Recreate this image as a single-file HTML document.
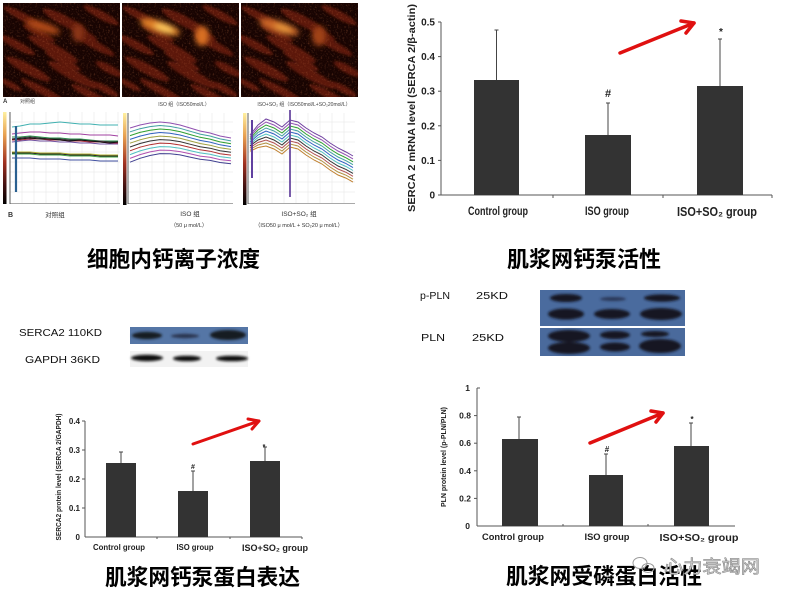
<!DOCTYPE html>
<html><head><meta charset="utf-8">
<style>
html,body{margin:0;padding:0;background:#fff;}
svg{display:block;}
text{font-family:"Liberation Sans","Noto Sans CJK SC",sans-serif;}
.cjk{font-family:"Liberation Sans","Noto Sans CJK SC",sans-serif;font-weight:bold;}
</style></head>
<body>
<svg width="786" height="599" viewBox="0 0 786 599" xmlns="http://www.w3.org/2000/svg">
<defs>
  <clipPath id="clipCell"><rect x="0" y="0" width="117" height="94"/></clipPath>
  <filter id="blur2" x="-20%" y="-20%" width="140%" height="140%"><feGaussianBlur stdDeviation="1.4"/></filter>
  <filter id="blur3" x="-30%" y="-30%" width="160%" height="160%"><feGaussianBlur stdDeviation="3"/></filter>
  <filter id="bblur" x="-20%" y="-50%" width="140%" height="200%"><feGaussianBlur stdDeviation="1.2"/></filter>
  <filter id="noise" x="0" y="0" width="100%" height="100%">
    <feTurbulence type="fractalNoise" baseFrequency="0.55" numOctaves="2" seed="4"/>
    <feColorMatrix values="0 0 0 0 0.7  0 0 0 0 0.22  0 0 0 0 0.08  2.6 0 0 0 -1.35"/>
  </filter>
  <linearGradient id="cbar" x1="0" y1="0" x2="0" y2="1">
    <stop offset="0" stop-color="#fff0a0"/>
    <stop offset="0.25" stop-color="#e8a050"/>
    <stop offset="0.55" stop-color="#a03020"/>
    <stop offset="0.8" stop-color="#401010"/>
    <stop offset="1" stop-color="#000"/>
  </linearGradient>
  <g id="cells">
    <rect x="0" y="0" width="117" height="94" fill="#180402"/>
    <g filter="url(#blur2)" fill="#6e1e08" opacity="0.8">
      <ellipse cx="20" cy="14" rx="22" ry="4" transform="rotate(28 20 14)"/>
      <ellipse cx="62" cy="18" rx="25" ry="5" transform="rotate(28 62 18)"/>
      <ellipse cx="98" cy="12" rx="20" ry="4" transform="rotate(28 98 12)"/>
      <ellipse cx="14" cy="42" rx="20" ry="4" transform="rotate(28 14 42)"/>
      <ellipse cx="50" cy="46" rx="28" ry="5" transform="rotate(28 50 46)"/>
      <ellipse cx="92" cy="42" rx="22" ry="4" transform="rotate(28 92 42)"/>
      <ellipse cx="25" cy="66" rx="25" ry="5" transform="rotate(28 25 66)"/>
      <ellipse cx="70" cy="72" rx="28" ry="5" transform="rotate(28 70 72)"/>
      <ellipse cx="106" cy="66" rx="15" ry="4" transform="rotate(28 106 66)"/>
      <ellipse cx="40" cy="88" rx="25" ry="4" transform="rotate(28 40 88)"/>
      <ellipse cx="88" cy="92" rx="22" ry="4" transform="rotate(28 88 92)"/>
      <ellipse cx="8" cy="82" rx="12" ry="3" transform="rotate(28 8 82)"/>
      <ellipse cx="60" cy="58" rx="20" ry="3.5" transform="rotate(28 60 58)"/>
      <ellipse cx="102" cy="86" rx="15" ry="3.5" transform="rotate(28 102 86)"/>
      <ellipse cx="36" cy="30" rx="18" ry="3.5" transform="rotate(28 36 30)"/>
      <ellipse cx="80" cy="30" rx="16" ry="3.5" transform="rotate(28 80 30)"/>
    </g>
    <rect x="0" y="0" width="117" height="94" filter="url(#noise)" opacity="0.3"/>
  </g>
</defs>

<!-- ===== Micrographs ===== -->
<g transform="translate(3,3)" clip-path="url(#clipCell)">
  <use href="#cells"/>
  <g filter="url(#blur3)">
    <ellipse cx="40" cy="24" rx="18" ry="5" fill="#b04a18" transform="rotate(18 40 24)"/>
    <ellipse cx="75" cy="30" rx="6" ry="9" fill="#8a3414"/>
  </g>
</g>
<g transform="translate(122,3)" clip-path="url(#clipCell)">
  <use href="#cells"/>
  <g filter="url(#blur3)">
    <ellipse cx="38" cy="24" rx="21" ry="6" fill="#e08028" transform="rotate(18 38 24)"/>
    <ellipse cx="42" cy="25" rx="10" ry="3" fill="#ffd060" transform="rotate(18 42 25)"/>
    <ellipse cx="80" cy="33" rx="7" ry="10" fill="#d87024"/>
  </g>
</g>
<g transform="translate(241,3)" clip-path="url(#clipCell)">
  <use href="#cells"/>
  <g filter="url(#blur3)">
    <ellipse cx="38" cy="24" rx="21" ry="6" fill="#cc6626" transform="rotate(18 38 24)"/>
    <ellipse cx="42" cy="25" rx="9" ry="3" fill="#e89a3c" transform="rotate(18 42 25)"/>
    <ellipse cx="78" cy="33" rx="7" ry="10" fill="#a04216"/>
  </g>
</g>
<text x="3" y="103" font-size="6" font-weight="bold" fill="#333">A</text>
<text x="20" y="103" font-size="5" fill="#444">对照组</text>
<text x="184" y="106" font-size="5" fill="#444" text-anchor="middle">ISO 组（ISO50mol/L）</text>
<text x="304" y="106" font-size="5" fill="#444" text-anchor="middle">ISO+SO₂ 组（ISO50mol/L+SO₂20mol/L）</text>

<!-- ===== Trace panels ===== -->
<!-- panel 1 -->
<g>
  <rect x="3" y="112" width="3.5" height="92" fill="url(#cbar)"/>
  <g stroke="#e6e6e6" stroke-width="0.6">
    <line x1="10" y1="122" x2="120" y2="122"/><line x1="10" y1="132" x2="120" y2="132"/><line x1="10" y1="142" x2="120" y2="142"/><line x1="10" y1="152" x2="120" y2="152"/><line x1="10" y1="162" x2="120" y2="162"/><line x1="10" y1="172" x2="120" y2="172"/><line x1="10" y1="182" x2="120" y2="182"/><line x1="10" y1="192" x2="120" y2="192"/>
    <line x1="22" y1="112" x2="22" y2="203"/><line x1="34" y1="112" x2="34" y2="203"/><line x1="46" y1="112" x2="46" y2="203"/><line x1="58" y1="112" x2="58" y2="203"/><line x1="70" y1="112" x2="70" y2="203"/><line x1="82" y1="112" x2="82" y2="203"/><line x1="94" y1="112" x2="94" y2="203"/><line x1="106" y1="112" x2="106" y2="203"/><line x1="118" y1="112" x2="118" y2="203"/>
  </g>
  <line x1="10" y1="112" x2="10" y2="204" stroke="#333" stroke-width="0.8"/>
  <line x1="10" y1="203.5" x2="120" y2="203.5" stroke="#555" stroke-width="0.6"/>
  <g fill="none" stroke-width="1">
    <polyline stroke="#40b0b0" points="12,127 20,126 30,124 40,124 50,123 60,122 70,123 80,124 90,124 100,125 110,125 118,125"/>
    <polyline stroke="#a040a0" points="12,134 20,133 30,132 40,132 50,133 60,133 70,134 80,134 90,135 100,135 110,135 118,136"/>
    <polyline stroke="#2a8a4a" points="12,137 20,137 30,136 40,137 50,138 60,138 70,139 80,139 90,140 100,141 110,141 118,141"/>
    <polyline stroke="#333" points="12,139 20,138 30,137 40,138 50,139 60,139 70,140 80,140 90,141 100,141 110,142 118,142"/>
    <polyline stroke="#b03040" points="12,140 20,140 30,139 40,139 50,140 60,140 70,141 80,141 90,142 100,142 110,143 118,143"/>
    <polyline stroke="#7050a0" points="12,142 20,141 30,140 40,141 50,141 60,142 70,142 80,143 90,143 100,144 110,144 118,144"/>
    <polyline stroke="#111" points="12,139 20,139 30,138 40,139 50,139 60,140 70,141 80,140 90,141 100,142 110,143 118,142"/>
    <polyline stroke="#b0b030" points="12,152 20,152 30,152 40,153 50,153 60,153 70,154 80,154 90,154 100,155 110,155 118,155"/>
    <polyline stroke="#222" points="12,153 20,153 30,153 40,154 50,154 60,154 70,155 80,155 90,155 100,156 110,156 118,156"/>
    <polyline stroke="#40a040" points="12,154 20,154 30,154 40,155 50,155 60,155 70,156 80,156 90,156 100,157 110,157 118,157"/>
    <polyline stroke="#4050a0" points="12,158 20,158 30,158 40,159 50,159 60,159 70,160 80,160 90,160 100,161 110,161 118,161"/>
  </g>
  <line x1="16" y1="126" x2="16" y2="192" stroke="#2a6090" stroke-width="2.2"/>
</g>
<!-- panel 2 -->
<g>
  <rect x="123" y="113" width="3.5" height="92" fill="url(#cbar)"/>
  <g stroke="#e6e6e6" stroke-width="0.6">
    <line x1="128" y1="122" x2="233" y2="122"/><line x1="128" y1="132" x2="233" y2="132"/><line x1="128" y1="142" x2="233" y2="142"/><line x1="128" y1="152" x2="233" y2="152"/><line x1="128" y1="162" x2="233" y2="162"/><line x1="128" y1="172" x2="233" y2="172"/><line x1="128" y1="182" x2="233" y2="182"/><line x1="128" y1="192" x2="233" y2="192"/>
    <line x1="140" y1="113" x2="140" y2="203"/><line x1="152" y1="113" x2="152" y2="203"/><line x1="164" y1="113" x2="164" y2="203"/><line x1="176" y1="113" x2="176" y2="203"/><line x1="188" y1="113" x2="188" y2="203"/><line x1="200" y1="113" x2="200" y2="203"/><line x1="212" y1="113" x2="212" y2="203"/><line x1="224" y1="113" x2="224" y2="203"/>
  </g>
  <line x1="128" y1="113" x2="128" y2="204" stroke="#333" stroke-width="0.8"/>
  <line x1="128" y1="203.5" x2="233" y2="203.5" stroke="#555" stroke-width="0.6"/>
  <g fill="none" stroke-width="1">
    <polyline stroke="#9050b0" points="130,128 140,125 150,123 160,122 170,123 180,125 190,128 200,131 210,133 220,136 231,138"/>
    <polyline stroke="#40a0a0" points="130,131.8 140,128.7 150,126.6 160,125.5 170,126.4 180,128.3 190,131.2 200,134.1 210,136 220,138.9 231,140.9"/>
    <polyline stroke="#30a030" points="130,135.6 140,132.4 150,130.2 160,129 170,129.8 180,131.6 190,134.5 200,137.3 210,139.1 220,141.9 231,143.7"/>
    <polyline stroke="#3060c0" points="130,139.4 140,136.1 150,133.8 160,132.5 170,133.3 180,135 190,137.7 200,140.4 210,142.1 220,144.8 231,146.6"/>
    <polyline stroke="#a0a040" points="130,143.2 140,139.8 150,137.4 160,136.1 170,136.7 180,138.3 190,140.9 200,143.5 210,145.2 220,147.8 231,149.4"/>
    <polyline stroke="#333" points="130,147 140,143.5 150,141 160,139.6 170,140.1 180,141.6 190,144.2 200,146.7 210,148.2 220,150.7 231,152.3"/>
    <polyline stroke="#b03030" points="130,150.8 140,147.2 150,144.7 160,143.1 170,143.5 180,145 190,147.4 200,149.8 210,151.2 220,153.7 231,155.1"/>
    <polyline stroke="#50c0c0" points="130,154.6 140,150.9 150,148.3 160,146.6 170,146.9 180,148.3 190,150.6 200,152.9 210,154.3 220,156.6 231,158"/>
    <polyline stroke="#b050b0" points="130,158.4 140,154.6 150,151.9 160,150.1 170,150.4 180,151.6 190,153.8 200,156.1 210,157.3 220,159.6 231,160.8"/>
    <polyline stroke="#404090" points="130,162.2 140,158.3 150,155.5 160,153.6 170,153.8 180,154.9 190,157.1 200,159.2 210,160.4 220,162.5 231,163.7"/>
  </g>
</g>
<!-- panel 3 -->
<g>
  <rect x="243" y="113" width="3.5" height="92" fill="url(#cbar)"/>
  <g stroke="#e6e6e6" stroke-width="0.6">
    <line x1="248" y1="122" x2="355" y2="122"/><line x1="248" y1="132" x2="355" y2="132"/><line x1="248" y1="142" x2="355" y2="142"/><line x1="248" y1="152" x2="355" y2="152"/><line x1="248" y1="162" x2="355" y2="162"/><line x1="248" y1="172" x2="355" y2="172"/><line x1="248" y1="182" x2="355" y2="182"/><line x1="248" y1="192" x2="355" y2="192"/>
    <line x1="260" y1="113" x2="260" y2="203"/><line x1="272" y1="113" x2="272" y2="203"/><line x1="284" y1="113" x2="284" y2="203"/><line x1="296" y1="113" x2="296" y2="203"/><line x1="308" y1="113" x2="308" y2="203"/><line x1="320" y1="113" x2="320" y2="203"/><line x1="332" y1="113" x2="332" y2="203"/><line x1="344" y1="113" x2="344" y2="203"/>
  </g>
  <line x1="248" y1="113" x2="248" y2="204" stroke="#333" stroke-width="0.8"/>
  <line x1="248" y1="203.5" x2="355" y2="203.5" stroke="#555" stroke-width="0.6"/>
  <g fill="none" stroke-width="1">
    <polyline stroke="#7040a0" points="250,135 258,125 266,119 274,122 282,127 290,120 298,122 306,128 314,133 322,137 330,143 338,148 346,152 353,156"/>
    <polyline stroke="#9050b0" points="250,136.8 258,127.5 266,122 274,125 282,130 290,123 298,125 306,131 314,136 322,140 330,146 338,151 346,154.9 353,158.9"/>
    <polyline stroke="#30a030" points="250,138.6 258,130 266,125 274,128 282,133 290,126 298,128 306,134 314,139 322,143 330,149 338,154 346,157.8 353,161.8"/>
    <polyline stroke="#40a0a0" points="250,140.4 258,132.5 266,128 274,131 282,136 290,129 298,131 306,137 314,142 322,146 330,152 338,157 346,160.7 353,164.7"/>
    <polyline stroke="#3060c0" points="250,142.2 258,135 266,131 274,134 282,139 290,132 298,134 306,140 314,145 322,149 330,155 338,160 346,163.6 353,167.6"/>
    <polyline stroke="#50c0c0" points="250,144 258,137.5 266,134 274,137 282,142 290,135 298,137 306,143 314,148 322,152 330,158 338,163 346,166.5 353,170.5"/>
    <polyline stroke="#333" points="250,145.8 258,140 266,137 274,140 282,145 290,138 298,140 306,146 314,151 322,155 330,161 338,166 346,169.4 353,173.4"/>
    <polyline stroke="#b05050" points="250,147.6 258,142.5 266,140 274,143 282,148 290,141 298,143 306,149 314,154 322,158 330,164 338,169 346,172.3 353,176.3"/>
    <polyline stroke="#b09040" points="250,149.4 258,145 266,143 274,146 282,151 290,144 298,146 306,152 314,157 322,161 330,167 338,172 346,175.2 353,179.2"/>
    <polyline stroke="#c08030" points="250,151.2 258,147.5 266,146 274,149 282,154 290,147 298,149 306,155 314,160 322,164 330,170 338,175 346,178.1 353,182.1"/>
  </g>
  <line x1="252" y1="120" x2="252" y2="178" stroke="#6040a0" stroke-width="2"/>
  <line x1="290" y1="110" x2="290" y2="197" stroke="#6a4aa0" stroke-width="1.8"/>
</g>
<text x="8" y="217" font-size="7" font-weight="bold" fill="#333">B</text>
<text x="55" y="217" font-size="6.5" fill="#333" text-anchor="middle">对照组</text>
<text x="190" y="216" font-size="6.5" fill="#333" text-anchor="middle">ISO 组</text>
<text x="189" y="227" font-size="5.5" fill="#333" text-anchor="middle">（50 μ mol/L）</text>
<text x="299" y="216" font-size="6.5" fill="#333" text-anchor="middle">ISO+SO₂ 组</text>
<text x="299" y="227" font-size="5.5" fill="#333" text-anchor="middle">（ISO50 μ mol/L + SO₂20 μ mol/L）</text>

<!-- captions top -->
<text class="cjk" x="87" y="267" font-size="22" textLength="173" lengthAdjust="spacingAndGlyphs" fill="#000">细胞内钙离子浓度</text>
<text class="cjk" x="507" y="267" font-size="22" textLength="154" lengthAdjust="spacingAndGlyphs" fill="#000">肌浆网钙泵活性</text>

<!-- ===== Chart A (top right) ===== -->
<g>
  <line x1="441" y1="22" x2="441" y2="195" stroke="#555" stroke-width="1"/>
  <line x1="441" y1="195" x2="772" y2="195" stroke="#555" stroke-width="1"/>
  <g stroke="#555" stroke-width="1">
    <line x1="438" y1="22" x2="441" y2="22"/><line x1="438" y1="56.6" x2="441" y2="56.6"/><line x1="438" y1="91.2" x2="441" y2="91.2"/><line x1="438" y1="125.8" x2="441" y2="125.8"/><line x1="438" y1="160.4" x2="441" y2="160.4"/><line x1="438" y1="195" x2="441" y2="195"/>
    <line x1="553" y1="195" x2="553" y2="198"/><line x1="663" y1="195" x2="663" y2="198"/><line x1="772" y1="195" x2="772" y2="198"/>
  </g>
  <g font-size="10" font-weight="bold" fill="#222" text-anchor="end">
    <text x="435" y="25.5">0.5</text><text x="435" y="60">0.4</text><text x="435" y="94.7">0.3</text><text x="435" y="129.3">0.2</text><text x="435" y="164">0.1</text><text x="435" y="198.5">0</text>
  </g>
  <text transform="translate(415,108) rotate(-90)" text-anchor="middle" font-size="10" font-weight="bold" fill="#222" textLength="208" lengthAdjust="spacingAndGlyphs">SERCA 2 mRNA level (SERCA 2/β-actin)</text>
  <g fill="#333">
    <rect x="474" y="80" width="45" height="115"/>
    <rect x="585" y="135" width="46" height="60"/>
    <rect x="697" y="86" width="46" height="109"/>
  </g>
  <g stroke="#444" stroke-width="1">
    <line x1="496.5" y1="80" x2="496.5" y2="30"/><line x1="494.5" y1="30" x2="498.5" y2="30"/>
    <line x1="608" y1="135" x2="608" y2="103"/><line x1="606" y1="103" x2="610" y2="103"/>
    <line x1="720" y1="86" x2="720" y2="39"/><line x1="718" y1="39" x2="722" y2="39"/>
  </g>
  <text x="608" y="97" font-size="11" font-weight="bold" fill="#222" text-anchor="middle">#</text>
  <text x="721" y="35" font-size="10" font-weight="bold" fill="#222" text-anchor="middle">*</text>
  <g font-weight="bold" fill="#222" text-anchor="middle">
    <text x="498" y="215" font-size="11.5" textLength="60" lengthAdjust="spacingAndGlyphs">Control group</text>
    <text x="607" y="215" font-size="11.5" textLength="44" lengthAdjust="spacingAndGlyphs">ISO group</text>
    <text x="717" y="216" font-size="12.5" textLength="80" lengthAdjust="spacingAndGlyphs">ISO+SO₂ group</text>
  </g>
  <g stroke="#e01010" stroke-width="3.5" fill="none" stroke-linecap="round" stroke-linejoin="round">
    <line x1="620" y1="53" x2="694" y2="23"/>
    <polyline points="681,21 694,23 686,33"/>
  </g>
</g>

<!-- ===== Blots left ===== -->
<text x="19" y="336" font-size="10" fill="#111" textLength="83" lengthAdjust="spacingAndGlyphs">SERCA2  110KD</text>
<text x="25" y="363" font-size="10" fill="#111" textLength="75" lengthAdjust="spacingAndGlyphs">GAPDH  36KD</text>
<rect x="130" y="327" width="118" height="17" fill="#5576a6"/>
<g filter="url(#bblur)" fill="#151a24">
  <ellipse cx="147" cy="335.5" rx="15" ry="3.6"/>
  <ellipse cx="185" cy="336" rx="14" ry="2.2" fill="#2a3550"/>
  <ellipse cx="228" cy="335" rx="18" ry="5"/>
</g>
<rect x="130" y="351" width="118" height="16" fill="#f2f2f2"/>
<g filter="url(#bblur)" fill="#111">
  <ellipse cx="147" cy="358" rx="16" ry="3.2"/>
  <ellipse cx="187" cy="358.5" rx="14" ry="2.8"/>
  <ellipse cx="232" cy="358.5" rx="16" ry="2.8"/>
</g>

<!-- ===== Chart C (bottom left) ===== -->
<g>
  <line x1="85" y1="421" x2="85" y2="537" stroke="#555" stroke-width="1"/>
  <line x1="85" y1="537" x2="302" y2="537" stroke="#555" stroke-width="1"/>
  <g stroke="#555" stroke-width="1">
    <line x1="82" y1="421" x2="85" y2="421"/><line x1="82" y1="450" x2="85" y2="450"/><line x1="82" y1="479" x2="85" y2="479"/><line x1="82" y1="508" x2="85" y2="508"/>
    <line x1="157" y1="537" x2="157" y2="539"/><line x1="230" y1="537" x2="230" y2="539"/><line x1="302" y1="537" x2="302" y2="539"/>
  </g>
  <g font-size="8" font-weight="bold" fill="#222" text-anchor="end">
    <text x="80" y="424">0.4</text><text x="80" y="453">0.3</text><text x="80" y="482">0.2</text><text x="80" y="511">0.1</text><text x="80" y="540">0</text>
  </g>
  <text transform="translate(61,477) rotate(-90)" text-anchor="middle" font-size="7" font-weight="bold" fill="#222" textLength="127" lengthAdjust="spacingAndGlyphs">SERCA2 protein level (SERCA 2/GAPDH)</text>
  <g fill="#333">
    <rect x="106" y="463" width="30" height="74"/>
    <rect x="178" y="491" width="30" height="46"/>
    <rect x="250" y="461" width="30" height="76"/>
  </g>
  <g stroke="#444" stroke-width="1">
    <line x1="121" y1="463" x2="121" y2="452"/><line x1="119" y1="452" x2="123" y2="452"/>
    <line x1="193" y1="491" x2="193" y2="471"/><line x1="191" y1="471" x2="195" y2="471"/>
    <line x1="265" y1="461" x2="265" y2="447"/><line x1="263" y1="447" x2="267" y2="447"/>
  </g>
  <text x="193" y="469" font-size="7" font-weight="bold" fill="#222" text-anchor="middle">#</text>
  <text x="264" y="449" font-size="7" font-weight="bold" fill="#222" text-anchor="middle">*</text>
  <g font-weight="bold" fill="#222" text-anchor="middle">
    <text x="119" y="550" font-size="8.5" textLength="52" lengthAdjust="spacingAndGlyphs">Control group</text>
    <text x="195" y="550" font-size="8.5" textLength="37" lengthAdjust="spacingAndGlyphs">ISO group</text>
    <text x="275" y="551" font-size="9.5" textLength="66" lengthAdjust="spacingAndGlyphs">ISO+SO₂ group</text>
  </g>
  <g stroke="#e01010" stroke-width="3" fill="none" stroke-linecap="round" stroke-linejoin="round">
    <line x1="193" y1="444" x2="259" y2="421"/>
    <polyline points="248,419 259,421 252,429"/>
  </g>
</g>
<text class="cjk" x="105" y="585" font-size="22" textLength="195" lengthAdjust="spacingAndGlyphs" fill="#000">肌浆网钙泵蛋白表达</text>

<!-- ===== Blots right ===== -->
<text x="420" y="299" font-size="10" fill="#111" textLength="30" lengthAdjust="spacingAndGlyphs">p-PLN</text>
<text x="476" y="299" font-size="10" fill="#111" textLength="32" lengthAdjust="spacingAndGlyphs">25KD</text>
<text x="421" y="341" font-size="10" fill="#111" textLength="24" lengthAdjust="spacingAndGlyphs">PLN</text>
<text x="472" y="341" font-size="10" fill="#111" textLength="32" lengthAdjust="spacingAndGlyphs">25KD</text>
<rect x="540" y="290" width="145" height="36" fill="#4a6b9e"/>
<rect x="540" y="328" width="145" height="28" fill="#4a6a9c"/>
<g filter="url(#bblur)" fill="#121622">
  <ellipse cx="566" cy="298" rx="16" ry="4"/>
  <ellipse cx="613" cy="299" rx="13" ry="2" fill="#2c3858"/>
  <ellipse cx="662" cy="298" rx="18" ry="3.6"/>
  <ellipse cx="566" cy="314" rx="18" ry="5.5"/>
  <ellipse cx="612" cy="314" rx="18" ry="5"/>
  <ellipse cx="661" cy="314" rx="21" ry="6"/>
  <ellipse cx="569" cy="336" rx="21" ry="6"/>
  <ellipse cx="569" cy="348" rx="21" ry="6"/>
  <ellipse cx="615" cy="335" rx="15" ry="4"/>
  <ellipse cx="615" cy="347" rx="15" ry="4.5"/>
  <ellipse cx="655" cy="334" rx="14" ry="3"/>
  <ellipse cx="660" cy="346" rx="21" ry="7"/>
</g>

<!-- ===== Chart D (bottom right) ===== -->
<g>
  <line x1="477" y1="388" x2="477" y2="526" stroke="#555" stroke-width="1"/>
  <line x1="477" y1="526" x2="735" y2="526" stroke="#555" stroke-width="1"/>
  <g stroke="#555" stroke-width="1">
    <line x1="477" y1="388" x2="480" y2="388"/><line x1="474" y1="415.6" x2="477" y2="415.6"/><line x1="474" y1="443.2" x2="477" y2="443.2"/><line x1="474" y1="470.8" x2="477" y2="470.8"/><line x1="474" y1="498.4" x2="477" y2="498.4"/>
    <line x1="563" y1="524" x2="563" y2="526"/><line x1="648" y1="524" x2="648" y2="526"/>
  </g>
  <g font-size="8.5" font-weight="bold" fill="#222" text-anchor="end">
    <text x="470" y="391">1</text><text x="471" y="418.6">0.8</text><text x="471" y="446.2">0.6</text><text x="471" y="473.8">0.4</text><text x="471" y="501.4">0.2</text><text x="470" y="529">0</text>
  </g>
  <text transform="translate(446,457) rotate(-90)" text-anchor="middle" font-size="7.5" font-weight="bold" fill="#222" textLength="100" lengthAdjust="spacingAndGlyphs">PLN protein level (p-PLN/PLN)</text>
  <g fill="#333">
    <rect x="502" y="439" width="36" height="87"/>
    <rect x="589" y="475" width="34" height="51"/>
    <rect x="674" y="446" width="35" height="80"/>
  </g>
  <g stroke="#444" stroke-width="1">
    <line x1="519" y1="439" x2="519" y2="417"/><line x1="517" y1="417" x2="521" y2="417"/>
    <line x1="606" y1="475" x2="606" y2="454"/><line x1="604" y1="454" x2="608" y2="454"/>
    <line x1="691" y1="446" x2="691" y2="423"/><line x1="689" y1="423" x2="693" y2="423"/>
  </g>
  <text x="607" y="452" font-size="8" font-weight="bold" fill="#222" text-anchor="middle">#</text>
  <text x="692" y="422" font-size="8" font-weight="bold" fill="#222" text-anchor="middle">*</text>
  <g font-weight="bold" fill="#222" text-anchor="middle">
    <text x="513" y="540" font-size="9" textLength="62" lengthAdjust="spacingAndGlyphs">Control group</text>
    <text x="607" y="540" font-size="9" textLength="45" lengthAdjust="spacingAndGlyphs">ISO group</text>
    <text x="699" y="541" font-size="10" textLength="79" lengthAdjust="spacingAndGlyphs">ISO+SO₂ group</text>
  </g>
  <g stroke="#e01010" stroke-width="3.5" fill="none" stroke-linecap="round" stroke-linejoin="round">
    <line x1="590" y1="443" x2="663" y2="413"/>
    <polyline points="651,411 663,413 656,422"/>
  </g>
</g>
<text class="cjk" x="506" y="584" font-size="22" textLength="196" lengthAdjust="spacingAndGlyphs" fill="#000">肌浆网受磷蛋白活性</text>

<!-- watermark -->
<g fill="none" stroke="#9a9a9a" stroke-width="1">
  <ellipse cx="640" cy="563" rx="7" ry="5.5"/>
  <ellipse cx="648" cy="568" rx="6" ry="4.5"/>
</g>
<text x="664" y="573" font-size="18" fill="#d0d0d0" stroke="#8a8a8a" stroke-width="0.6" textLength="96" lengthAdjust="spacingAndGlyphs">心力衰竭网</text>
</svg>
</body></html>
